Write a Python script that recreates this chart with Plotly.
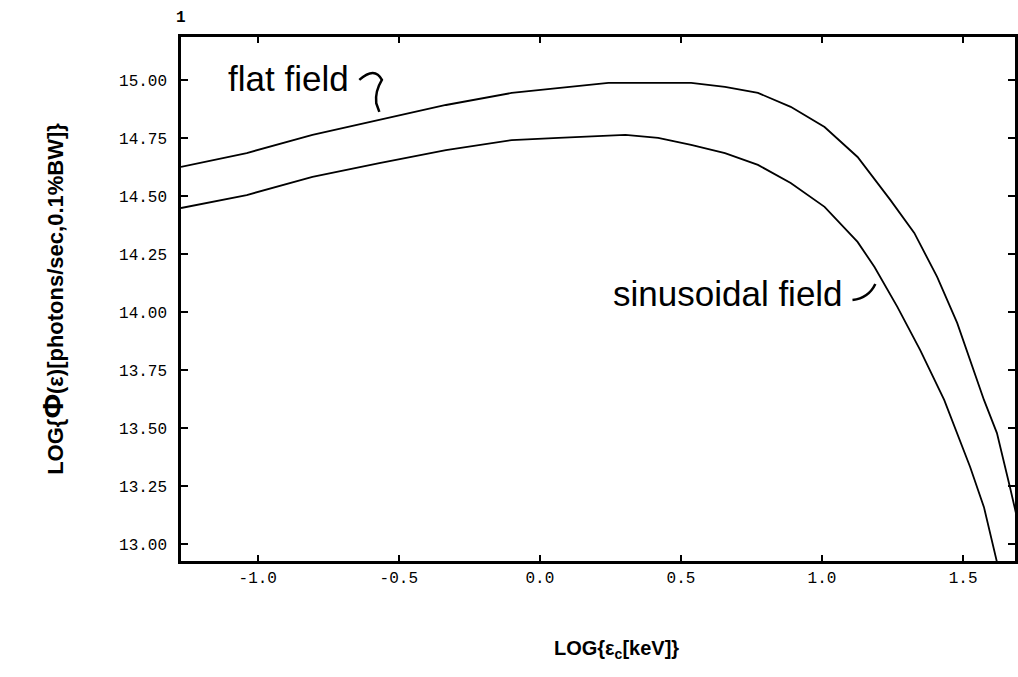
import plotly.graph_objects as go

# Data (LOG of critical energy in keV vs LOG of flux)
x_flat = [-1.272, -1.039, -0.806, -0.569, -0.333, -0.100, 0.066, 0.243, 0.536, 0.656,
          0.773, 0.889, 1.009, 1.126, 1.242, 1.327, 1.408, 1.479, 1.574, 1.620, 1.666, 1.690]
y_flat = [14.625, 14.685, 14.763, 14.828, 14.892, 14.944, 14.966, 14.987, 14.987, 14.970,
          14.944, 14.884, 14.797, 14.668, 14.483, 14.341, 14.151, 13.953, 13.621, 13.478, 13.246, 13.120]

x_sin = [-1.272, -1.039, -0.806, -0.569, -0.333, -0.100, 0.066, 0.303, 0.419, 0.536,
         0.656, 0.773, 0.889, 1.009, 1.126, 1.186, 1.267, 1.348, 1.433, 1.525, 1.574, 1.620, 1.640]
y_sin = [14.448, 14.504, 14.582, 14.642, 14.698, 14.741, 14.750, 14.763, 14.750, 14.720,
         14.685, 14.634, 14.556, 14.453, 14.302, 14.194, 14.022, 13.836, 13.621, 13.332, 13.159, 12.927, 12.820]

x_ticks = [-1.0, -0.5, 0.0, 0.5, 1.0, 1.5]
x_tick_text = ["-1.0", "-0.5", "0.0", "0.5", "1.0", "1.5"]
y_ticks = [13.00, 13.25, 13.50, 13.75, 14.00, 14.25, 14.50, 14.75, 15.00]
y_tick_text = ["13.00", "13.25", "13.50", "13.75", "14.00", "14.25", "14.50", "14.75", "15.00"]

x_range = [-1.272, 1.684]
y_range = [12.927, 15.185]

fig = go.Figure()
fig.add_trace(go.Scatter(x=x_flat, y=y_flat, mode="lines", name="flat field",
                         line=dict(color="black", width=1.8), showlegend=False))
fig.add_trace(go.Scatter(x=x_sin, y=y_sin, mode="lines", name="sinusoidal field",
                         line=dict(color="black", width=1.8), showlegend=False))

label_font = dict(family="Liberation Sans, Arial, sans-serif", size=35, color="black")
fig.add_annotation(x=-0.891, y=15.005, xref="x", yref="y", text="flat field",
                   showarrow=False, font=label_font, xanchor="center", yanchor="middle")
fig.add_annotation(x=0.665, y=14.078, xref="x", yref="y", text="sinusoidal field",
                   showarrow=False, font=label_font, xanchor="center", yanchor="middle")

# hand-drawn pointer marks
fig.add_shape(type="path", xref="x", yref="y",
              path="M -0.640,15.000 Q -0.585,15.060 -0.560,15.000 Q -0.585,14.950 -0.580,14.900 L -0.569,14.862",
              line=dict(color="black", width=2.5))
fig.add_shape(type="path", xref="x", yref="y",
              path="M 1.108,14.052 Q 1.165,14.060 1.189,14.121",
              line=dict(color="black", width=2.5))

fig.add_annotation(x=0.0, y=1.015, xref="paper", yref="paper", text="<b>1</b>", showarrow=False,
                   font=dict(family="Liberation Mono, monospace", size=16, color="black"),
                   xanchor="center", yanchor="bottom")

# x-axis title placed as annotation (slightly right of plot centre, as in the reference)
fig.add_annotation(x=0.522, y=-0.168, xref="paper", yref="paper",
                   text="<b>LOG{ε<sub>c</sub>[keV]}</b>", showarrow=False,
                   font=dict(family="Liberation Sans, Arial, sans-serif", size=20, color="black"),
                   xanchor="center", yanchor="middle")

tick_font = dict(family="Liberation Mono, DejaVu Sans Mono, monospace", size=16, color="black")
fig.update_xaxes(range=x_range, tickvals=x_ticks, ticktext=x_tick_text, ticks="inside",
                 ticklen=6, tickwidth=1.5, tickcolor="black", showline=True, linecolor="black",
                 linewidth=2.5, mirror="ticks", showgrid=False, zeroline=False,
                 tickfont=tick_font)
fig.update_yaxes(range=y_range, tickvals=y_ticks, ticktext=y_tick_text, ticks="inside",
                 ticklen=7, tickwidth=1.5, tickcolor="black", showline=True, linecolor="black",
                 linewidth=2.5, mirror="ticks", showgrid=False, zeroline=False,
                 tickfont=tick_font, ticklabelstandoff=8,
                 title=dict(text="<b>LOG{<span style='font-size:30px'>Φ</span>(ε)[photons/sec,0.1%BW]}</b>",
                            standoff=50,
                            font=dict(family="Liberation Sans, Arial, sans-serif", size=22, color="black")))

fig.update_layout(width=1018, height=677, plot_bgcolor="white", paper_bgcolor="white",
                  margin=dict(l=181, r=0, t=37, b=116), showlegend=False)

fig.write_html("out.html", config={"displayModeBar": False},
               post_script="document.body.style.margin='0';")
